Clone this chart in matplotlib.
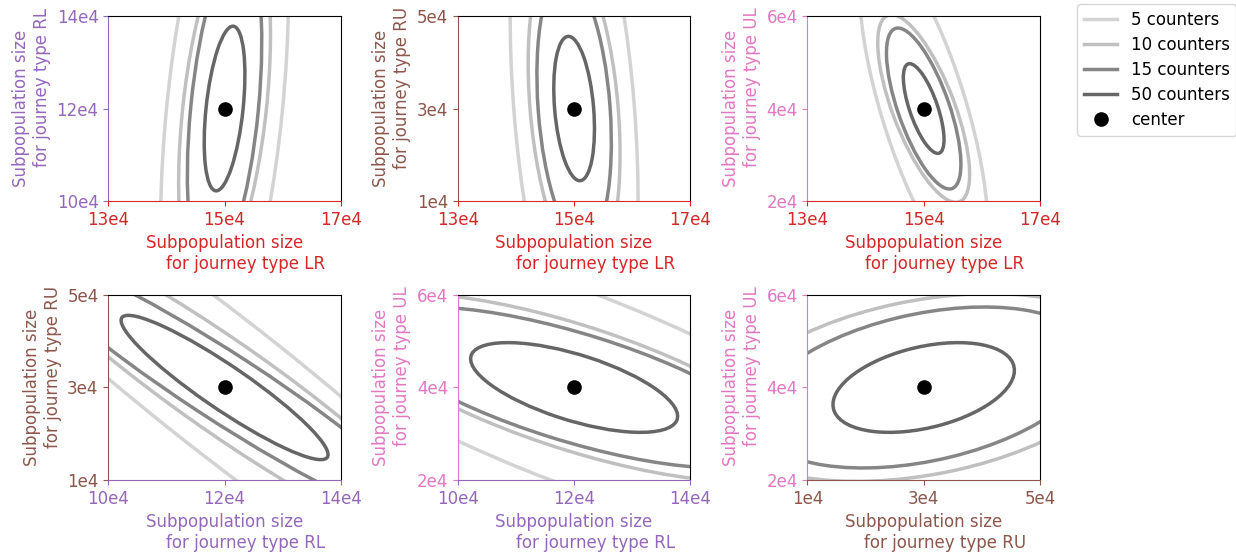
import numpy as np
import matplotlib
matplotlib.use("Agg")
import matplotlib.pyplot as plt
from matplotlib.patches import Ellipse
from matplotlib.lines import Line2D

# ---------------------------------------------------------------------------
# Data (extents in units of 1e4)
# ---------------------------------------------------------------------------
journey_types = ["LR", "RL", "RU", "UL"]
centers = [15e4, 12e4, 3e4, 4e4]
type_colors = ["#d62728", "#9467bd", "#8c564b", "#e377c2"]

counters = [5, 10, 15, 50]
counter_colors = ["#d3d3d3", "#c0c0c0", "#868686", "#666666"]

# half-extent of each contour along LR, RL, RU, UL
extent_5 = [1.10, 6.00, 6.00, 3.50]
extent_10 = [0.79, 3.90, 3.50, 2.03]
extent_15 = [0.64, 3.50, 2.90, 1.74]
extent_50 = [0.35, 1.78, 1.56, 0.97]

# pairwise correlation: LR-RL, LR-RU, LR-UL, RL-RU, RL-UL, RU-UL
pairs = [(0, 1), (0, 2), (0, 3), (1, 2), (1, 3), (2, 3)]
corr_5 = [0.42, -0.33, -0.72, -0.953, -0.78, 0.30]
corr_10 = [0.41, -0.28, -0.70, -0.94, -0.72, 0.33]
corr_15 = [0.41, -0.25, -0.69, -0.953, -0.71, 0.36]
corr_50 = [0.41, -0.28, -0.69, -0.93, -0.64, 0.38]

extents = [extent_5, extent_10, extent_15, extent_50]
corrs = [corr_5, corr_10, corr_15, corr_50]

tick_offsets = [-2e4, 0, 2e4]


def fmt(v):
    return "%de4" % round(v / 1e4)


fig, axes = plt.subplots(2, 3, figsize=(12.36, 5.56))
fig.subplots_adjust(left=0.0876, right=0.8414, bottom=0.1367, top=0.9712,
                    wspace=0.503, hspace=0.508)

for k, (i, j) in enumerate(pairs):
    ax = axes.flat[k]
    cx, cy = centers[i], centers[j]

    for ext, corr, col in zip(extents, corrs, counter_colors):
        sx, sy, r = ext[i] * 1e4, ext[j] * 1e4, corr[k]
        cov = np.array([[sx * sx, r * sx * sy], [r * sx * sy, sy * sy]])
        w, v = np.linalg.eigh(cov)
        ang = np.degrees(np.arctan2(v[1, 1], v[0, 1]))
        ax.add_patch(Ellipse((cx, cy), 2 * np.sqrt(w[1]), 2 * np.sqrt(w[0]),
                             angle=ang, fill=False, edgecolor=col, lw=2.5))

    ax.plot(cx, cy, "o", color="black", ms=9.5, zorder=5)

    ax.set_xlim(cx - 2e4, cx + 2e4)
    ax.set_ylim(cy - 2e4, cy + 2e4)
    xt = [cx + o for o in tick_offsets]
    yt = [cy + o for o in tick_offsets]
    ax.set_xticks(xt)
    ax.set_xticklabels([fmt(t) for t in xt])
    ax.set_yticks(yt)
    ax.set_yticklabels([fmt(t) for t in yt])

    xc, yc = type_colors[i], type_colors[j]
    ax.set_xlabel("Subpopulation size\n        for journey type " + journey_types[i],
                  color=xc, fontsize=12)
    ax.set_ylabel("Subpopulation size\n        for journey type " + journey_types[j],
                  color=yc, fontsize=12)
    ax.tick_params(axis="x", colors=xc, labelsize=12)
    ax.tick_params(axis="y", colors=yc, labelsize=12)
    ax.spines["bottom"].set_color(xc)
    ax.spines["left"].set_color(yc)

handles = [Line2D([], [], color=c, lw=2.5, label="%d counters" % n)
           for n, c in zip(counters, counter_colors)]
handles.append(Line2D([], [], marker="o", ls="", color="black", ms=9.5, label="center"))
fig.legend(handles=handles, loc="upper left", bbox_to_anchor=(1069 / 1236, 1 + 4 / 556),
           fontsize=12, labelspacing=0.42)

plt.savefig("out.png", dpi=100)
